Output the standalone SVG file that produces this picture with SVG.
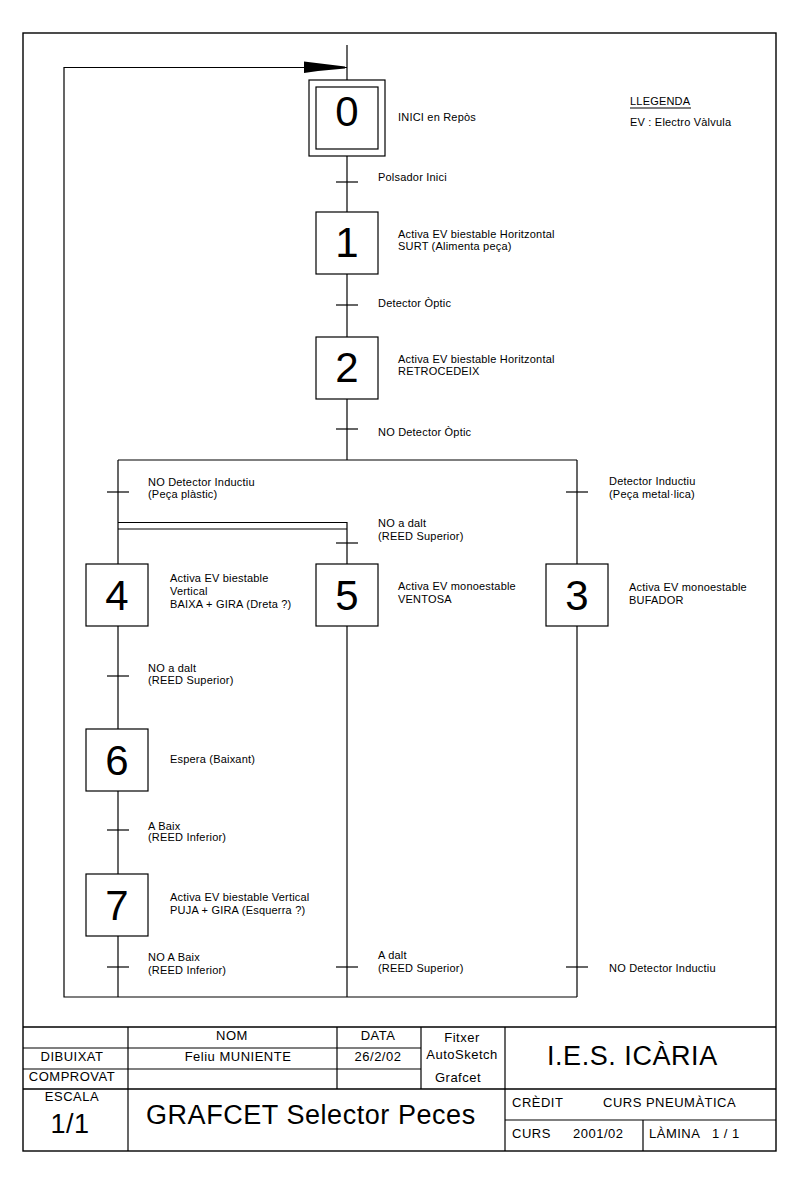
<svg xmlns="http://www.w3.org/2000/svg" width="800" height="1186" viewBox="0 0 800 1186">
<style>
  .ln{stroke:#000;stroke-width:1.2;fill:none}
  .fr{stroke:#000;stroke-width:1.4;fill:none}
  .box{stroke:#000;stroke-width:1.2;fill:#fff}
  .num{font-family:"Liberation Sans",Arial,sans-serif;font-size:42px;fill:#000;text-anchor:middle}
  .t{font-family:"Liberation Sans",Arial,sans-serif;font-size:11px;letter-spacing:0.2px;fill:#000}
  .tb{font-family:"Liberation Sans",Arial,sans-serif;font-size:13px;letter-spacing:0.5px;fill:#000;text-anchor:middle}
  .tbl{font-family:"Liberation Sans",Arial,sans-serif;font-size:13px;letter-spacing:0.5px;fill:#000}
  .big{font-family:"Liberation Sans",Arial,sans-serif;font-size:27px;letter-spacing:0.55px;fill:#000}
</style>
<rect width="800" height="1186" fill="#fff"/>
<rect class="fr" x="23" y="33" width="753" height="1118"/>

<g id="connectors">
  <line class="ln" x1="347" y1="45" x2="347" y2="80"/>
  <line class="ln" x1="347" y1="156" x2="347" y2="212"/>
  <line class="ln" x1="347" y1="274" x2="347" y2="337"/>
  <line class="ln" x1="347" y1="399" x2="347" y2="460"/>
  <line class="ln" x1="118" y1="460" x2="577" y2="460"/>
  <line class="ln" x1="118" y1="460" x2="118" y2="564"/>
  <line class="ln" x1="577" y1="460" x2="577" y2="564"/>
  <polyline class="ln" points="118,522.5 347,522.5 347,564"/>
  <line class="ln" x1="118" y1="529" x2="347" y2="529"/>
  <line class="ln" x1="118" y1="626" x2="118" y2="729"/>
  <line class="ln" x1="118" y1="791" x2="118" y2="874"/>
  <line class="ln" x1="118" y1="936" x2="118" y2="997"/>
  <line class="ln" x1="347" y1="626" x2="347" y2="997"/>
  <line class="ln" x1="577" y1="626" x2="577" y2="997"/>
  <polyline class="ln" points="577,997 64,997 64,67.5 347,67.5"/>
  <polygon points="304,61.5 345,66.5 345,68.5 318,71 304,73" fill="#000"/>
  <line class="ln" x1="336" y1="182" x2="358" y2="182"/>
  <line class="ln" x1="336" y1="305" x2="358" y2="305"/>
  <line class="ln" x1="336" y1="429" x2="358" y2="429"/>
  <line class="ln" x1="107" y1="492" x2="129" y2="492"/>
  <line class="ln" x1="566" y1="492" x2="588" y2="492"/>
  <line class="ln" x1="336" y1="543" x2="358" y2="543"/>
  <line class="ln" x1="107" y1="676" x2="129" y2="676"/>
  <line class="ln" x1="107" y1="830" x2="129" y2="830"/>
  <line class="ln" x1="107" y1="967" x2="129" y2="967"/>
  <line class="ln" x1="336" y1="967" x2="358" y2="967"/>
  <line class="ln" x1="566" y1="967" x2="588" y2="967"/>
</g>

<g id="step0">
  <rect class="box" x="309" y="80" width="76" height="76"/>
  <rect class="box" x="316" y="87" width="62" height="62"/>
  <text class="num" x="347" y="126">0</text>
  <text class="t" x="398" y="121">INICI en Repòs</text>
</g>
<g id="step1">
  <rect class="box" x="316" y="212" width="62" height="62"/>
  <text class="num" x="347" y="257">1</text>
  <text class="t" x="398" y="238">Activa EV biestable Horitzontal</text>
  <text class="t" x="398" y="250">SURT (Alimenta peça)</text>
</g>
<g id="step2">
  <rect class="box" x="316" y="337" width="62" height="62"/>
  <text class="num" x="347" y="382">2</text>
  <text class="t" x="398" y="363">Activa EV biestable Horitzontal</text>
  <text class="t" x="398" y="375">RETROCEDEIX</text>
</g>
<g id="step4">
  <rect class="box" x="86" y="564" width="62" height="62"/>
  <text class="num" x="117" y="610">4</text>
  <text class="t" x="170" y="582">Activa EV biestable</text>
  <text class="t" x="170" y="595">Vertical</text>
  <text class="t" x="170" y="608">BAIXA + GIRA (Dreta ?)</text>
</g>
<g id="step5">
  <rect class="box" x="316" y="564" width="62" height="62"/>
  <text class="num" x="347" y="610">5</text>
  <text class="t" x="398" y="590">Activa EV monoestable</text>
  <text class="t" x="398" y="603">VENTOSA</text>
</g>
<g id="step3">
  <rect class="box" x="546" y="564" width="62" height="62"/>
  <text class="num" x="577" y="610">3</text>
  <text class="t" x="629" y="591">Activa EV monoestable</text>
  <text class="t" x="629" y="604">BUFADOR</text>
</g>
<g id="step6">
  <rect class="box" x="86" y="729" width="62" height="62"/>
  <text class="num" x="117" y="775">6</text>
  <text class="t" x="170" y="763">Espera (Baixant)</text>
</g>
<g id="step7">
  <rect class="box" x="86" y="874" width="62" height="62"/>
  <text class="num" x="117" y="920">7</text>
  <text class="t" x="170" y="901">Activa EV biestable Vertical</text>
  <text class="t" x="170" y="914">PUJA + GIRA (Esquerra ?)</text>
</g>

<g id="transition-labels">
  <text class="t" x="378" y="181">Polsador Inici</text>
  <text class="t" x="378" y="307">Detector Òptic</text>
  <text class="t" x="378" y="436">NO Detector Òptic</text>
  <text class="t" x="148" y="486">NO Detector Inductiu</text>
  <text class="t" x="148" y="498">(Peça plàstic)</text>
  <text class="t" x="609" y="485">Detector Inductiu</text>
  <text class="t" x="609" y="498">(Peça metal·lica)</text>
  <text class="t" x="378" y="527">NO a dalt</text>
  <text class="t" x="378" y="540">(REED Superior)</text>
  <text class="t" x="148" y="672">NO a dalt</text>
  <text class="t" x="148" y="684">(REED Superior)</text>
  <text class="t" x="148" y="830">A Baix</text>
  <text class="t" x="148" y="841">(REED Inferior)</text>
  <text class="t" x="148" y="961">NO A Baix</text>
  <text class="t" x="148" y="974">(REED Inferior)</text>
  <text class="t" x="378" y="959">A dalt</text>
  <text class="t" x="378" y="972">(REED Superior)</text>
  <text class="t" x="609" y="972">NO Detector Inductiu</text>
</g>

<g id="legend">
  <text class="t" x="630" y="105">LLEGENDA</text>
  <line class="ln" x1="630" y1="108" x2="691" y2="108" stroke-width="1"/>
  <text class="t" x="630" y="126">EV : Electro Vàlvula</text>
</g>

<g id="title-block">
  <line class="fr" x1="23" y1="1027" x2="776" y2="1027"/>
  <line class="ln" x1="23" y1="1048" x2="421" y2="1048"/>
  <line class="ln" x1="23" y1="1069" x2="421" y2="1069"/>
  <line class="fr" x1="23" y1="1089" x2="776" y2="1089"/>
  <line class="ln" x1="505" y1="1120" x2="776" y2="1120"/>
  <line class="ln" x1="128" y1="1027" x2="128" y2="1151"/>
  <line class="ln" x1="337" y1="1027" x2="337" y2="1089"/>
  <line class="ln" x1="421" y1="1027" x2="421" y2="1089"/>
  <line class="ln" x1="505" y1="1027" x2="505" y2="1151"/>
  <line class="ln" x1="643" y1="1120" x2="643" y2="1151"/>

  <text class="tb" x="232" y="1040">NOM</text>
  <text class="tb" x="378" y="1040">DATA</text>
  <text class="tb" x="462" y="1042">Fitxer</text>
  <text class="tb" x="72" y="1061">DIBUIXAT</text>
  <text class="tb" x="238" y="1061">Feliu MUNIENTE</text>
  <text class="tb" x="378" y="1061">26/2/02</text>
  <text class="tb" x="462" y="1059">AutoSketch</text>
  <text class="tb" x="72" y="1081">COMPROVAT</text>
  <text class="tb" x="458" y="1082">Grafcet</text>
  <text class="tb" x="72" y="1101">ESCALA</text>
  <text class="big" x="70" y="1133" text-anchor="middle">1/1</text>
  <text class="big" x="146" y="1124">GRAFCET Selector Peces</text>
  <text class="big" x="547" y="1065">I.E.S. ICÀRIA</text>
  <text class="tbl" x="512" y="1107">CRÈDIT</text>
  <text class="tbl" x="603" y="1107">CURS PNEUMÀTICA</text>
  <text class="tbl" x="512" y="1138">CURS</text>
  <text class="tbl" x="573" y="1138">2001/02</text>
  <text class="tbl" x="649" y="1138">LÀMINA  <tspan x="712">1 / 1</tspan></text>
</g>
</svg>
